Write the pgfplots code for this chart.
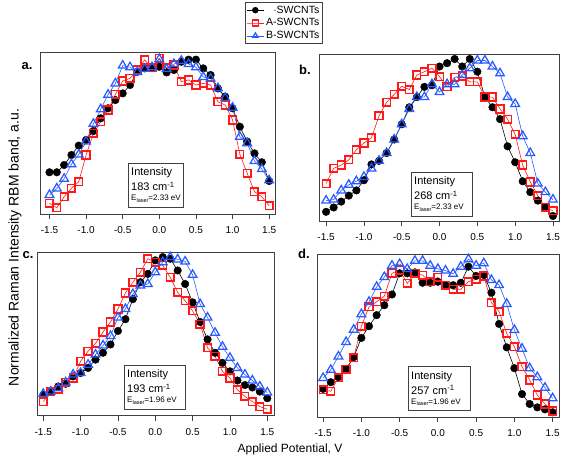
\documentclass[border=0pt]{standalone}
\usepackage{pgfplots}
\pgfplotsset{compat=1.18}
\usepackage{pgfplotstable}
\usepackage{fontspec}
\setmainfont{Liberation Sans}

\definecolor{rr}{RGB}{255,25,25}
\definecolor{bb}{RGB}{40,90,255}
\definecolor{fr}{RGB}{64,64,64}

\pgfplotstableread{
V k r b
-1.5 0.26 0.068 0.12
-1.4 0.26 0.041 0.16
-1.3 0.305 0.109 0.22
-1.2 0.367 0.161 0.31
-1.1 0.425 0.202 0.37
-1.0 0.46 0.367 0.45
-0.9 0.515 0.501 0.56
-0.8 0.594 0.573 0.65
-0.7 0.656 0.645 0.74
-0.6 0.707 0.742 0.81
-0.5 0.748 0.825 0.92
-0.4 0.8 0.841 0.91
-0.3 0.882 0.893 0.88
-0.2 0.903 0.955 0.9
-0.1 0.907 0.907 0.91
0.0 0.913 0.965 0.96
0.1 0.878 0.907 0.9
0.2 0.893 0.924 0.93
0.3 0.944 0.821 0.95
0.4 0.957 0.831 0.93
0.5 0.957 0.8 0.91
0.6 0.903 0.81 0.85
0.7 0.862 0.8 0.84
0.8 0.779 0.697 0.78
0.9 0.728 0.676 0.72
1.0 0.656 0.584 0.66
1.1 0.542 0.371 0.48
1.2 0.45 0.254 0.44
1.3 0.377 0.14 0.33
1.4 0.322 0.109 0.28
1.5 0.206 0.052 0.21
}\ta

\pgfplotstableread{
V k r b
-1.5 0.055 0.224 0.122
-1.4 0.081 0.315 0.128
-1.3 0.116 0.335 0.183
-1.2 0.152 0.366 0.217
-1.1 0.183 0.427 0.238
-1.0 0.244 0.467 0.264
-0.9 0.339 0.498 0.315
-0.8 0.36 0.63 0.36
-0.7 0.407 0.711 0.407
-0.6 0.488 0.758 0.488
-0.5 0.579 0.807 0.579
-0.4 0.681 0.787 0.671
-0.3 0.742 0.874 0.742
-0.2 0.803 0.894 0.742
-0.1 0.813 0.915 0.819
0.0 0.925 0.864 0.772
0.1 0.945 0.803 0.819
0.2 0.97 0.86 0.819
0.3 0.925 0.868 0.874
0.4 0.97 0.833 0.915
0.5 0.894 0.833 0.961
0.6 0.742 0.742 0.961
0.7 0.681 0.742 0.925
0.8 0.61 0.671 0.884
0.9 0.447 0.61 0.742
1.0 0.352 0.518 0.701
1.1 0.238 0.335 0.508
1.2 0.173 0.234 0.407
1.3 0.122 0.152 0.224
1.4 0.081 0.081 0.173
1.5 0.03 0.061 0.128
}\tb

\pgfplotstableread{
V k r b
-1.5 0.128 0.087 0.134
-1.4 0.148 0.148 0.148
-1.3 0.179 0.163 0.169
-1.2 0.196 0.204 0.204
-1.1 0.241 0.231 0.252
-1.0 0.262 0.334 0.262
-0.9 0.293 0.396 0.313
-0.8 0.344 0.443 0.375
-0.7 0.386 0.513 0.431
-0.6 0.437 0.575 0.489
-0.5 0.52 0.654 0.602
-0.4 0.592 0.753 0.654
-0.3 0.715 0.819 0.746
-0.2 0.819 0.88 0.798
-0.1 0.87 0.963 0.808
0.0 0.953 0.942 0.88
0.1 0.973 0.922 0.942
0.2 0.963 0.849 0.973
0.3 0.891 0.757 0.959
0.4 0.808 0.705 0.946
0.5 0.695 0.643 0.864
0.6 0.575 0.561 0.685
0.7 0.468 0.416 0.602
0.8 0.386 0.365 0.509
0.9 0.324 0.272 0.423
1.0 0.272 0.231 0.355
1.1 0.216 0.159 0.293
1.2 0.188 0.118 0.252
1.3 0.173 0.087 0.216
1.4 0.148 0.056 0.179
1.5 0.107 0.039 0.142
}\tc

\pgfplotstableread{
V k r b
-1.5 0.173 0.167 0.24
-1.4 0.214 0.158 0.29
-1.3 0.245 0.241 0.372
-1.2 0.296 0.292 0.461
-1.1 0.368 0.364 0.537
-1.0 0.486 0.558 0.632
-0.9 0.558 0.677 0.708
-0.8 0.626 0.708 0.8
-0.7 0.687 0.743 0.86
-0.6 0.753 0.883 0.93
-0.5 0.883 0.903 0.94
-0.4 0.883 0.821 0.91
-0.3 0.889 0.883 0.96
-0.2 0.825 0.872 0.96
-0.1 0.825 0.831 0.93
0.0 0.831 0.858 0.91
0.1 0.81 0.81 0.90
0.2 0.81 0.785 0.88
0.3 0.825 0.785 0.924
0.4 0.924 0.832 0.97
0.5 0.867 0.846 0.93
0.6 0.873 0.867 0.945
0.7 0.764 0.703 0.842
0.8 0.572 0.648 0.811
0.9 0.428 0.514 0.695
1.0 0.30 0.432 0.535
1.1 0.141 0.309 0.42
1.2 0.08 0.227 0.3
1.3 0.059 0.135 0.245
1.4 0.047 0.08 0.18
1.5 0.029 0.037 0.115
}\td

\pgfplotsset{
  panel/.style={
    anchor=south west, scale only axis, clip=false,
    ymin=0, ymax=1, ytick=\empty,
    xtick={-1.5,-1,-0.5,0,0.5,1,1.5},
    xtick pos=left, tick align=outside, major tick length=5pt,
    axis line style={draw=fr, line width=0.8pt},
    tick style={draw=fr, line width=0.8pt},
    xticklabel style={font=\fontsize{10}{12}\selectfont, yshift=-4pt,
      /pgf/number format/fixed, /pgf/number format/fixed zerofill,
      /pgf/number format/precision=1},
    /pgf/number format/assume math mode=true,
  },
  kser/.style={black, line width=0.6pt, mark=*, mark size=3.8pt,
    mark options={fill=black, draw=black, line width=0.4pt}},
  rser/.style={rr, line width=0.6pt, mark=square, mark size=3.8pt,
    mark options={draw=rr, line width=1.6pt, fill=none}},
  bser/.style={bb, line width=0.6pt, mark=triangle, mark size=5pt,
    mark options={draw=bb, line width=1.25pt, fill=none}},
}

\newcommand{\infobox}[5]{%
  \draw[fr, line width=0.8pt, fill=white] (#1pt,#2pt) rectangle ++(#3pt,-44pt);
  \node[anchor=base west, inner sep=0pt, font=\fontsize{11}{13}\selectfont] at (#1pt+3pt,#2pt-13pt) {Intensity};
  \node[anchor=base west, inner sep=0pt, font=\fontsize{11}{13}\selectfont] at (#1pt+3pt,#2pt-28pt) {#4 cm\textsuperscript{-1}};
  \node[anchor=base west, inner sep=0pt, font=\fontsize{8}{10}\selectfont] at (#1pt+3pt,#2pt-38pt) {E{\fontsize{5.5}{6}\selectfont\raisebox{-1.2pt}{laser}}=#5 eV};
}

\begin{document}
\begin{tikzpicture}
\useasboundingbox (0,0) rectangle (562pt,457pt);

% panel a
\begin{axis}[panel, at={(40.7pt,242.7pt)}, width=234.3pt, height=161.6pt,
  xmin=-1.62, xmax=1.58,
  legend style={at={(1.038,1.314)}, anchor=north, draw=fr, line width=0.6pt,
    font=\fontsize{10.5}{12.5}\selectfont, inner sep=1.5pt, fill=white},
  legend cell align=right,
  legend image post style={mark size=3pt}]
\addplot[kser] table[x=V,y=k]{\ta};
\addplot[rser] table[x=V,y=r]{\ta};
\addplot[bser] table[x=V,y=b]{\ta};
\legend{{\color{gray}-}SWCNTs, A-SWCNTs, B-SWCNTs}
\end{axis}

% panel b
\begin{axis}[panel, at={(319.3pt,236pt)}, width=239.7pt, height=167pt,
  xmin=-1.59, xmax=1.58]
\addplot[kser] table[x=V,y=k]{\tb};
\addplot[rser] table[x=V,y=r]{\tb};
\addplot[bser] table[x=V,y=b]{\tb};
\end{axis}

% panel c
\begin{axis}[panel, at={(37.3pt,41.3pt)}, width=236.7pt, height=163pt,
  xmin=-1.58, xmax=1.59]
\addplot[kser] table[x=V,y=k]{\tc};
\addplot[rser] table[x=V,y=r]{\tc};
\addplot[bser] table[x=V,y=b]{\tc};
\end{axis}

% panel d
\begin{axis}[panel, at={(317pt,40pt)}, width=242.5pt, height=162.7pt,
  xmin=-1.58, xmax=1.59]
\addplot[kser] table[x=V,y=k]{\td};
\addplot[rser] table[x=V,y=r]{\td};
\addplot[bser] table[x=V,y=b]{\td};
\end{axis}

\infobox{128}{294}{55}{183}{2.33}
\infobox{411}{285}{61}{268}{2.33}
\infobox{124}{92}{61}{193}{1.96}
\infobox{408}{90.3}{62}{257}{1.96}

\node[font=\bfseries\fontsize{13}{15}\selectfont] at (27pt,391pt) {a.};
\node[font=\bfseries\fontsize{13}{15}\selectfont] at (305pt,387pt) {b.};
\node[font=\bfseries\fontsize{13}{15}\selectfont] at (28pt,202pt) {c.};
\node[font=\bfseries\fontsize{13}{15}\selectfont] at (304pt,203pt) {d.};

\node[font=\fontsize{12}{14}\selectfont] at (290pt,8pt) {Applied Potential, V};
\node[rotate=90, font=\fontsize{14}{16}\selectfont] at (15pt,209.5pt) {Normalized Raman Intensity RBM band, a.u.};
\end{tikzpicture}
\end{document}
